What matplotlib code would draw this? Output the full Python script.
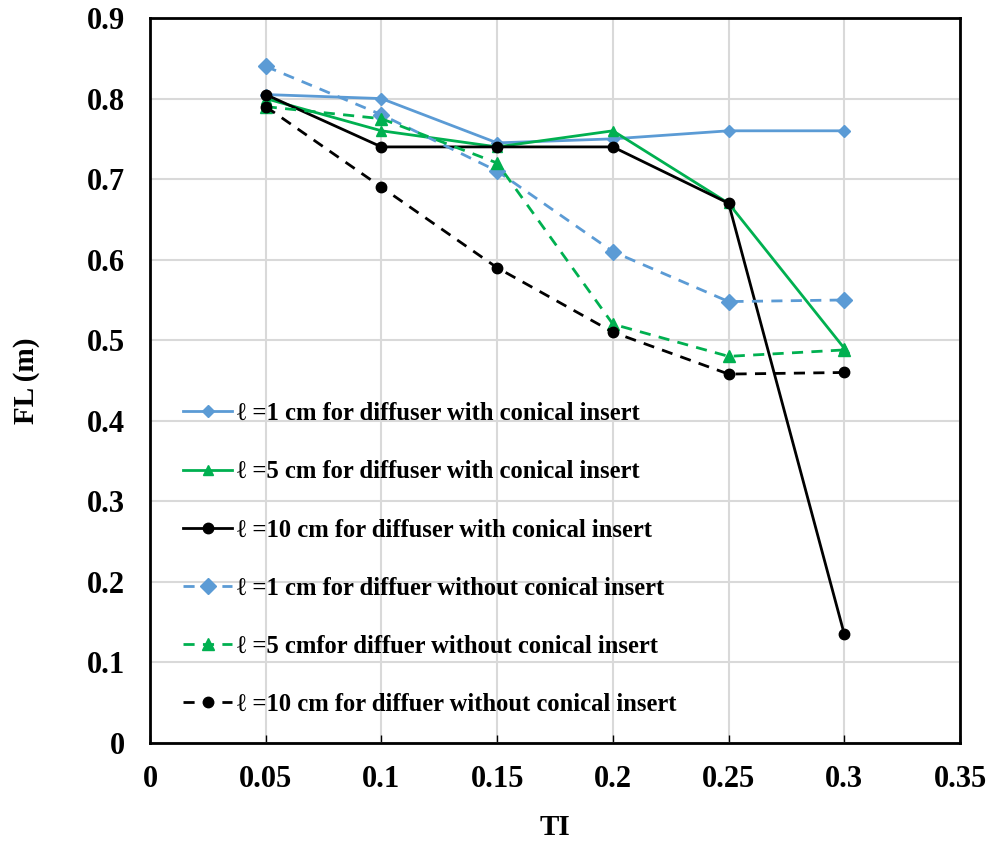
import numpy as np
import matplotlib.pyplot as plt

plt.rcParams['font.family'] = ['Liberation Serif', 'DejaVu Serif']
plt.rcParams['font.weight'] = 'bold'

ti = [0.05, 0.1, 0.15, 0.2, 0.25, 0.3]
fl_1cm_with = [0.805, 0.80, 0.745, 0.75, 0.76, 0.76]
fl_5cm_with = [0.80, 0.76, 0.74, 0.76, 0.67, 0.49]
fl_10cm_with = [0.805, 0.74, 0.74, 0.74, 0.67, 0.135]
fl_1cm_without = [0.84, 0.78, 0.71, 0.61, 0.548, 0.55]
fl_5cm_without = [0.79, 0.775, 0.72, 0.52, 0.48, 0.488]
fl_10cm_without = [0.79, 0.69, 0.59, 0.51, 0.458, 0.46]

labels = ["\u2113 =1 cm for diffuser with conical insert",
          "\u2113 =5 cm for diffuser with conical insert",
          "\u2113 =10 cm for diffuser with conical insert",
          "\u2113 =1 cm for diffuer without conical insert",
          "\u2113 =5 cmfor diffuer without conical insert",
          "\u2113 =10 cm for diffuer without conical insert"]

blue = "#5B9BD5"
green = "#00B050"

fig = plt.figure(figsize=(9.89, 8.46), dpi=100)
ax = fig.add_axes([0.1517, 0.1217, 0.819, 0.857])

ax.plot(ti, fl_1cm_with, color=blue, lw=2, marker="D", ms=6, label=labels[0])
ax.plot(ti, fl_5cm_with, color=green, lw=2, marker="^", ms=7, label=labels[1])
ax.plot(ti, fl_10cm_with, color="black", lw=2, marker="o", ms=7.5, label=labels[2])
ax.plot(ti, fl_1cm_without, color=blue, lw=2, ls=(0, (4, 3)), marker="D", ms=8, label=labels[3])
ax.plot(ti, fl_5cm_without, color=green, lw=2, ls=(0, (4, 3)), marker="^", ms=9, label=labels[4])
ax.plot(ti, fl_10cm_without, color="black", lw=2, ls=(0, (4, 3)), marker="o", ms=7.5, label=labels[5])

ax.set_xlim(0, 0.35)
ax.set_ylim(0, 0.9)
ax.set_xticks(np.arange(0, 0.351, 0.05))
ax.set_yticks(np.arange(0, 0.91, 0.1))
ax.set_xticklabels(["0", "0.05", "0.1", "0.15", "0.2", "0.25", "0.3", "0.35"])
ax.set_yticklabels(["0", "0.1", "0.2", "0.3", "0.4", "0.5", "0.6", "0.7", "0.8", "0.9"])
ax.grid(True, color="#d9d9d9", lw=1.5)
ax.set_axisbelow(True)
for s in ax.spines.values():
    s.set_linewidth(2)
ax.tick_params(axis="x", direction="in", length=6, width=1, labelsize=22, pad=16)
ax.tick_params(axis="y", length=0, labelsize=22, pad=18)
ax.set_xlabel("TI", fontsize=21, fontweight="bold", labelpad=14)
ax.set_ylabel("FL (m)", fontsize=21, fontweight="bold", labelpad=34)

ax.legend(loc="lower left", bbox_to_anchor=(0.0134, 0.007), frameon=False,
          prop={"size": 17.7, "weight": "bold"}, labelspacing=1.43,
          handlelength=2.0, handletextpad=0.2)

fig.savefig("out.png", dpi=100)
